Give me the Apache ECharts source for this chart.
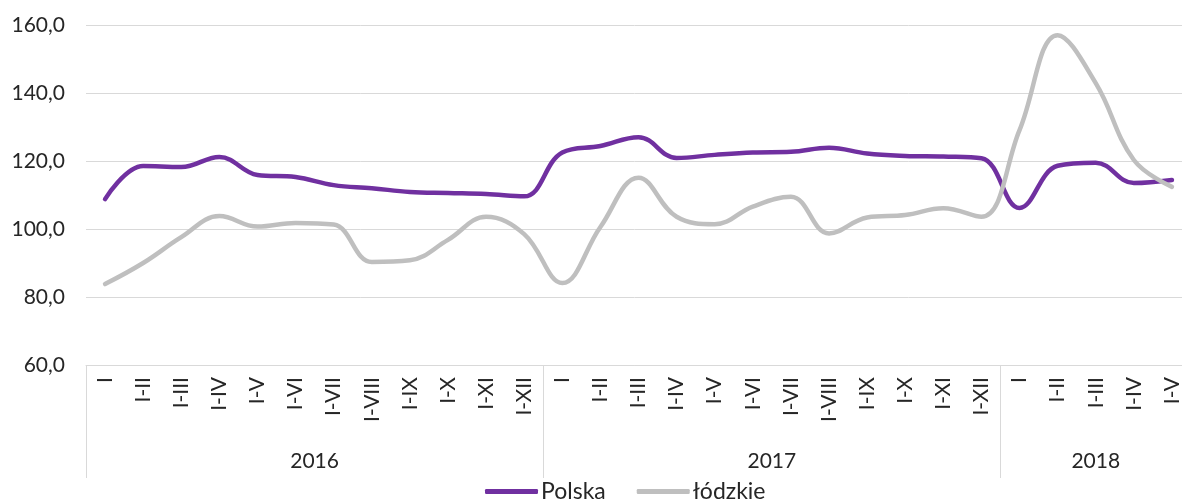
<!DOCTYPE html>
<html>
<head>
<meta charset="utf-8">
<script src="https://cdn.jsdelivr.net/npm/echarts@6/dist/echarts.min.js"></script>
<style>
  html, body { margin: 0; padding: 0; background: #fff; }
  #chart { width: 1182px; height: 499px; }
</style>
</head>
<body>
<div id="chart"></div>
<script>
// dane
var years = ['2016', '2017', '2018']
var periods = [
  'I', 'I-II', 'I-III', 'I-IV', 'I-V', 'I-VI', 'I-VII', 'I-VIII', 'I-IX', 'I-X', 'I-XI', 'I-XII',
  'I', 'I-II', 'I-III', 'I-IV', 'I-V', 'I-VI', 'I-VII', 'I-VIII', 'I-IX', 'I-X', 'I-XI', 'I-XII',
  'I', 'I-II', 'I-III', 'I-IV', 'I-V'
]
var polska = [
  108.8, 118.5, 118.2, 121.2, 115.9, 115.3, 112.9, 112.0, 110.9, 110.6, 110.3, 109.6,
  122.5, 124.4, 127.0, 120.9, 121.8, 122.5, 122.7, 123.9, 122.2, 121.5, 121.3, 120.8,
  106.2, 118.6, 119.5, 113.5, 114.4
]
var lodzkie = [
  83.8, 90.0, 97.6, 103.8, 100.7, 101.8, 101.3, 90.3, 90.8, 96.8, 103.6, 98.5,
  84.1, 100.6, 115.1, 103.6, 101.4, 106.6, 109.5, 98.7, 103.4, 104.1, 106.1, 103.6,
  129.1, 157.0, 142.9, 120.3, 112.4
]
// granice lat (liczba okresow narastajaco) i srodki grup
var yearBounds = [0, 12, 24, 29]
var yearCenters = [6, 18, 26.5]

var font = 'Lato'
var myChart = echarts.init(document.getElementById('chart'))
var option = {
  animation: false,
  color: ['#7030a0', '#bfbfbf'],
  // wykres wychodzi troche poza prawa krawedz, jak w oryginale
  grid: { left: 86, width: 1105, top: 25, height: 340, outerBoundsMode: 'none' },
  legend: {
    data: ['Polska', 'łódzkie'],
    top: 475,
    left: 480,
    icon: 'roundRect',
    itemWidth: 53,
    itemHeight: 5,
    itemGap: 31,
    textStyle: { color: '#262626', fontSize: 23, fontFamily: font, padding: [0, 0, 0, -2] }
  },
  xAxis: [
    {
      type: 'category',
      data: periods,
      position: 'bottom',
      axisLine: { show: false },
      axisTick: { show: false },
      axisLabel: {
        rotate: 90,
        interval: 0,
        margin: 12,
        color: '#262626',
        fontSize: 21,
        fontFamily: font
      }
    },
    {
      type: 'value',
      min: 0,
      max: periods.length,
      position: 'bottom',
      splitLine: { show: false },
      axisLine: { show: true, lineStyle: { color: '#d9d9d9' } },
      axisTick: {
        show: true,
        customValues: yearBounds,
        length: 113,
        lineStyle: { color: '#d9d9d9' }
      },
      axisLabel: {
        customValues: yearCenters,
        margin: 86,
        color: '#262626',
        fontSize: 21,
        fontFamily: font,
        formatter: function (v) {
          return years[yearCenters.indexOf(v)] || ''
        }
      }
    }
  ],
  yAxis: {
    type: 'value',
    min: 60,
    max: 160,
    interval: 20,
    axisLine: { show: false },
    axisTick: { show: false },
    splitLine: { lineStyle: { color: '#d9d9d9' } },
    axisLabel: {
      margin: 21,
      color: '#262626',
      fontSize: 21,
      fontFamily: font,
      formatter: function (v) {
        return v.toFixed(1).replace('.', ',')
      }
    }
  },
  series: [
    {
      name: 'Polska',
      type: 'line',
      xAxisIndex: 0,
      data: polska,
      smooth: 0.4,
      showSymbol: false,
      lineStyle: { width: 4.5, cap: 'round' }
    },
    {
      name: 'łódzkie',
      type: 'line',
      xAxisIndex: 0,
      data: lodzkie,
      smooth: 0.4,
      showSymbol: false,
      lineStyle: { width: 4.5, cap: 'round' }
    }
  ]
}
myChart.setOption(option)
</script>
</body>
</html>
